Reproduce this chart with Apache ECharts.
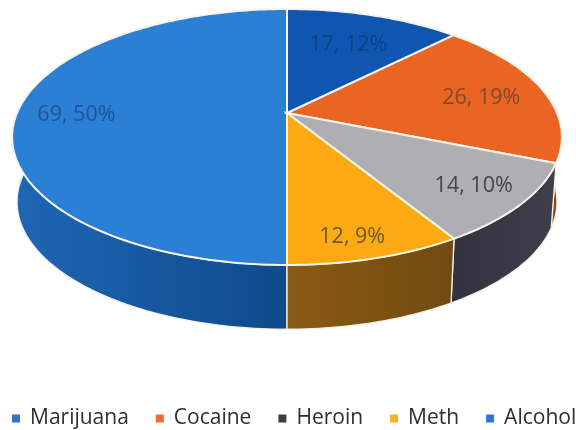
<!DOCTYPE html>
<html><head><meta charset="utf-8">
<style>html,body{margin:0;padding:0;background:#fff}#c{width:576px;height:430px}</style>
<script src="https://cdn.jsdelivr.net/npm/echarts@6/dist/echarts.min.js"></script>
</head><body><div id="c"></div>
<script>
var categories = ['Marijuana', 'Cocaine', 'Heroin', 'Meth', 'Alcohol'];
var values = [69, 26, 14, 12, 17];
var clockwiseOrder = ['Alcohol', 'Cocaine', 'Heroin', 'Meth', 'Marijuana'];

var topColors = {Marijuana:'#2b7fd4', Cocaine:'#ea6424', Heroin:'#afafb3', Meth:'#fdaa12', Alcohol:'#0f56b0'};
var wallColors = {
  Marijuana:['#1f66b5','#0f4a8a'], Cocaine:['#8f451e','#8f451e'], Heroin:['#33323f','#3f3e4a'],
  Meth:['#8b5a14','#704a10'], Alcohol:['#0a3a78','#0a3a78']
};
var legendColors = {Marijuana:'#2f74cf', Cocaine:'#ef6a2a', Heroin:'#3c3c44', Meth:'#fdb02a', Alcohol:'#2f74cf'};
var wallOrder = {Alcohol:1, Cocaine:2, Marijuana:3, Heroin:4, Meth:5};
var labelRadius = {Marijuana:0.78, Alcohol:0.72, Cocaine:0.78, Heroin:0.81, Meth:0.88};
var labelShift = {Marijuana:[0,2], Alcohol:[-4,5], Cocaine:[-6,4], Heroin:[2,1], Meth:[-11,-1]};
var labelColors = {Marijuana:'#1f5596', Alcohol:'#0d4085', Cocaine:'#84482b', Heroin:'#434349', Meth:'#6b5729'};

var total = values.reduce(function(a,b){return a+b;},0);
var valueOf = function(n){return values[categories.indexOf(n)];};
var spans = {}, run = 0;
clockwiseOrder.forEach(function(n){ spans[n]=[run/total*2*Math.PI,(run+valueOf(n))/total*2*Math.PI]; run+=valueOf(n); });

// tilted disc with perspective: unit circle -> screen
var cx=287, cy=113, ax=270, by=123.5, k=0.1875;
var depth=65, shrink=0.982;
function proj(X,Y){var d=1-k*Y; return [cx+ax*X/d, cy+by*Y/d];}
function rim(t){return proj(Math.sin(t),-Math.cos(t));}
function lower(t){var p=rim(t); return [cx+(p[0]-cx)*shrink, cy+depth+(p[1]-cy)*0.995];}
function arc(fn,a,b){var n=Math.max(2,Math.ceil((b-a)/0.02)),o=[];for(var i=0;i<=n;i++)o.push(fn(a+(b-a)*i/n));return o;}

function renderSlice(params){
  var name=params.seriesName, s=spans[name], v=valueOf(name);
  var top=[proj(0,0)].concat(arc(rim,s[0],s[1]));
  var wall=arc(rim,s[0],s[1]).concat(arc(lower,s[0],s[1]).reverse());
  var mid=(s[0]+s[1])/2, r=labelRadius[name];
  var lp=proj(r*Math.sin(mid),-r*Math.cos(mid));
  var c=wallColors[name], sh=labelShift[name];
  return {type:'group',children:[
    {type:'polygon',z2:wallOrder[name],shape:{points:wall},
     style:{fill:new echarts.graphic.LinearGradient(0,0,1,0,[{offset:0,color:c[0]},{offset:1,color:c[1]}]),stroke:'#f4f1e6',lineWidth:1.3}},
    {type:'polygon',z2:100,shape:{points:top},style:{fill:topColors[name],stroke:'#f7f5ea',lineWidth:2}},
    {type:'text',z2:200,x:lp[0]+sh[0],y:lp[1]+sh[1],style:{text:v+', '+Math.round(v/total*100)+'%',
      fill:labelColors[name],font:'21.5px "Open Sans"',align:'center',verticalAlign:'middle'}}
  ]};
}

var chart=echarts.init(document.getElementById('c'),null,{renderer:'canvas'});
chart.setOption({
  animation:false,
  backgroundColor:'#fff',
  legend:{
    data:categories, left:7, top:403, width:640, icon:'rect', itemWidth:8, itemHeight:8, itemGap:27,
    textStyle:{fontFamily:'Open Sans',fontSize:21,color:'#2e2e2e',padding:[0,0,0,5]}
  },
  series:categories.map(function(n){return {
    type:'custom', name:n, coordinateSystem:'none', silent:true,
    itemStyle:{color:legendColors[n]}, renderItem:renderSlice, data:[[valueOf(n)]]
  };})
});
</script></body></html>
